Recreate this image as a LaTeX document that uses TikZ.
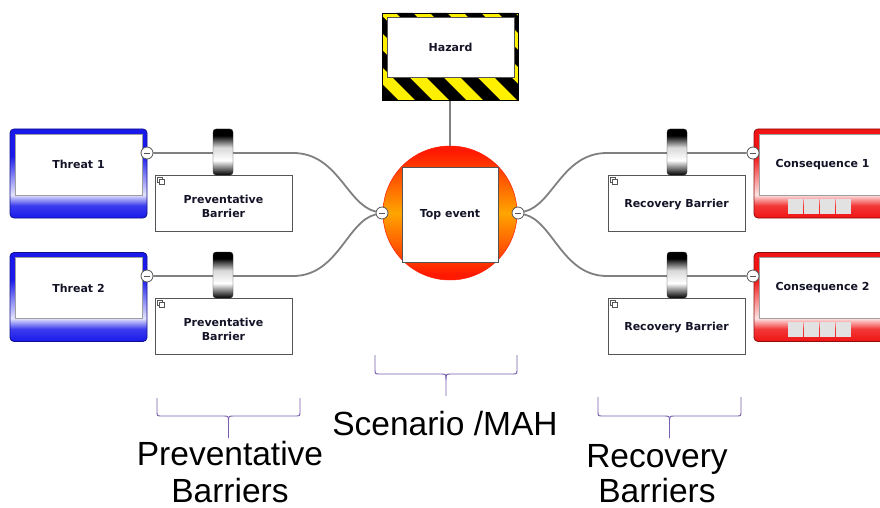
\documentclass[tikz,border=0pt]{standalone}
\usepackage{fontspec}
\setmainfont{Liberation Sans}
\newfontfamily\boxfont{DejaVu Sans}
\usetikzlibrary{backgrounds}

\definecolor{tblue}{RGB}{25,25,235}
\definecolor{cred}{RGB}{240,20,20}
\definecolor{hyellow}{RGB}{255,240,0}
\definecolor{torange}{RGB}{255,165,0}
\definecolor{tred}{RGB}{255,25,0}
\definecolor{linegray}{RGB}{128,128,128}
\definecolor{edgegray}{RGB}{85,85,85}
\definecolor{brack}{RGB}{120,95,175}
\definecolor{ink}{RGB}{20,20,40}
\definecolor{sqgray}{RGB}{226,226,226}

% frame fades: strong colour at top and bottom, pale just above the bottom band
\pgfdeclareverticalshading{threatfade}{100bp}{color(0bp)=(tblue); color(25bp)=(tblue); color(32bp)=(tblue!85); color(38bp)=(tblue!12); color(48bp)=(tblue!50); color(60bp)=(tblue); color(100bp)=(tblue)}
\pgfdeclareverticalshading{conseqfade}{100bp}{color(0bp)=(cred); color(25bp)=(cred); color(32bp)=(cred!85); color(38bp)=(cred!12); color(48bp)=(cred!50); color(60bp)=(cred); color(100bp)=(cred)}
% barrier knob: black - white - black
\pgfdeclareverticalshading{knob}{100bp}{color(0bp)=(black); color(25bp)=(black); color(41bp)=(white); color(55bp)=(white!85!black); color(68bp)=(black); color(100bp)=(black)}
% top event disc: red rim top and bottom, orange centre
\pgfdeclareverticalshading{discfade}{100bp}{color(0bp)=(tred); color(27bp)=(tred); color(50bp)=(torange); color(73bp)=(tred); color(100bp)=(tred)}

\begin{document}
\begin{tikzpicture}[x=1pt,y=-1pt,
  conn/.style={draw=linegray, line width=1.8pt},
  boxtext/.style={font=\boxfont\bfseries\fontsize{11}{14}\selectfont, text=ink, align=center},
  threatframe/.style={minimum width=137pt, minimum height=89pt, inner sep=0pt, rounded corners=4pt, shading=threatfade, draw=tblue!60!black, line width=0.8pt},
  conseqframe/.style={minimum width=137pt, minimum height=89pt, inner sep=0pt, rounded corners=4pt, shading=conseqfade, draw=cred!60!black, line width=0.8pt},
  innerbox/.style={boxtext, draw=gray!75, fill=white, minimum width=127pt, minimum height=61pt, inner sep=0pt, line width=0.7pt},
  barrierbox/.style={draw=edgegray, fill=white, line width=0.8pt, minimum width=137pt, minimum height=56pt, inner sep=0pt},
  knobshape/.style={rounded corners=3pt, shading=knob, draw=black!80, line width=0.3pt},
  minus/.style={circle, draw=edgegray, fill=white, line width=0.8pt, minimum size=12pt, inner sep=0pt,
    path picture={\draw[edgegray, line width=0.9pt] ([xshift=-3pt]path picture bounding box.center) -- ([xshift=3pt]path picture bounding box.center);}},
  hazardbox/.style={minimum width=136pt, minimum height=87pt, inner sep=0pt, draw=black, line width=0.7pt, fill=hyellow,
    path picture={\foreach \s in {0,...,7}
      \fill[black] ([xshift={-88pt+34pt*\s}]path picture bounding box.north west) -- ++(17,0) -- ++(90,90) -- ++(-17,0) -- cycle;}},
  bigtext/.style={font=\fontsize{33.5}{39}\selectfont, anchor=base, inner sep=0pt, text=black},
  brace/.style={draw=brack, line width=0.9pt},
  icon/.style={draw=edgegray, fill=white, line width=0.5pt}
]
\useasboundingbox (0,0) rectangle (880,508);
\clip (0,0) rectangle (880,508);

% ---- hazard ----
\node[hazardbox] (hz) at (450,56.5) {};
\node[innerbox, minimum width=127pt, minimum height=60pt, draw=edgegray] (hzt) at (450.5,47) {Hazard};

% ---- top event ----
\node[circle, minimum size=134pt, inner sep=0pt, shading=discfade, draw=tred, line width=0.5pt] (teb) at (450,213) {};
\node[boxtext, draw=edgegray, fill=white, minimum width=96pt, minimum height=95pt, inner sep=0pt, line width=0.8pt] (te) at (450,214.5) {Top event};
\node[minus] (tel) at (382,213) {};
\node[minus] (ter) at (518,213) {};

% ---- threats ----
\node[threatframe] (t1f) at (78.5,173.5) {};
\node[innerbox] (t1) at (78.5,164.5) {Threat 1};
\node[minus] (t1m) at (147,153) {};
\node[threatframe] (t2f) at (78.5,297) {};
\node[innerbox] (t2) at (78.5,288) {Threat 2};
\node[minus] (t2m) at (147,276) {};

% ---- consequences ----
\node[conseqframe] (c1f) at (822.5,173.5) {};
\node[innerbox] (c1) at (822.5,164.5) {Consequence 1};
\foreach \k in {0,...,3} \fill[sqgray] ({788+16*\k},199) rectangle ++(15.2,15);
\node[minus] (c1m) at (753,153) {};
\node[conseqframe] (c2f) at (822.5,297) {};
\node[innerbox] (c2) at (822.5,288) {Consequence 2};
\foreach \k in {0,...,3} \fill[sqgray] ({788+16*\k},322) rectangle ++(15.2,15);
\node[minus] (c2m) at (753,276) {};

% ---- connectors ----
\coordinate (lb1) at (293,153);
\coordinate (lb2) at (293,276);
\coordinate (rb1) at (607,153);
\coordinate (rb2) at (607,276);
\begin{scope}[on background layer]
  \fill[white] (0,0) rectangle (880,508);
  \draw[conn] (hz.south) -- (teb.north);
  \draw[conn] (t1m) -- (lb1) .. controls +(45,0) and +(-35,-8) .. (tel);
  \draw[conn] (t2m) -- (lb2) .. controls +(45,0) and +(-35,8) .. (tel);
  \draw[conn] (ter) .. controls +(35,-8) and +(-45,0) .. (rb1) -- (c1m);
  \draw[conn] (ter) .. controls +(35,8) and +(-45,0) .. (rb2) -- (c2m);
\end{scope}

% ---- barriers ----
\node[barrierbox] (pb1) at (223.5,203) {};
\node[barrierbox] (pb2) at (223.5,326) {};
\node[barrierbox] (rb1box) at (676.5,203) {};
\node[barrierbox] (rb2box) at (676.5,326) {};
\node[boxtext, yshift=-3pt] (pb1t) at (pb1.center) {Preventative\\Barrier};
\node[boxtext, yshift=-3pt] (pb2t) at (pb2.center) {Preventative\\Barrier};
\node[boxtext, yshift=-1.5pt] (rb1t) at (rb1box.center) {Recovery Barrier};
\node[boxtext, yshift=-1.5pt] (rb2t) at (rb2box.center) {Recovery Barrier};
\foreach \b in {pb1,pb2,rb1box,rb2box}{
  \draw[icon] ([shift={(3,3)}]\b.north west) rectangle ++(5,5);
  \draw[icon] ([shift={(5,5)}]\b.north west) rectangle ++(5,5);
}
\path[knobshape] (213,129) rectangle (233,175);
\path[knobshape] (213,252) rectangle (233,298);
\path[knobshape] (667,129) rectangle (687,175);
\path[knobshape] (667,252) rectangle (687,298);

% ---- braces ----
\draw[brace] (157,398) -- (157,411) .. controls (157,416) .. (162,416) -- (223,416) .. controls (228.5,416) .. (228.5,422) -- (228.5,438);
\draw[brace] (300,398) -- (300,411) .. controls (300,416) .. (295,416) -- (234,416) .. controls (228.5,416) .. (228.5,422);
\draw[brace] (375,355) -- (375,369) .. controls (375,374) .. (380,374) -- (440.5,374) .. controls (446,374) .. (446,380) -- (446,396);
\draw[brace] (517,355) -- (517,369) .. controls (517,374) .. (512,374) -- (451.5,374) .. controls (446,374) .. (446,380);
\draw[brace] (598,397) -- (598,411) .. controls (598,416) .. (603,416) -- (664,416) .. controls (669.5,416) .. (669.5,422) -- (669.5,438);
\draw[brace] (741,397) -- (741,411) .. controls (741,416) .. (736,416) -- (675,416) .. controls (669.5,416) .. (669.5,422);

% ---- labels ----
\node[bigtext] (pv1) at (230,465) {Preventative};
\node[bigtext] (pv2) at (230,502) {Barriers};
\node[bigtext] (sc) at (445,435) {Scenario /MAH};
\node[bigtext] (rc1) at (657,467) {Recovery};
\node[bigtext] (rc2) at (657,502) {Barriers};
\end{tikzpicture}
\end{document}
